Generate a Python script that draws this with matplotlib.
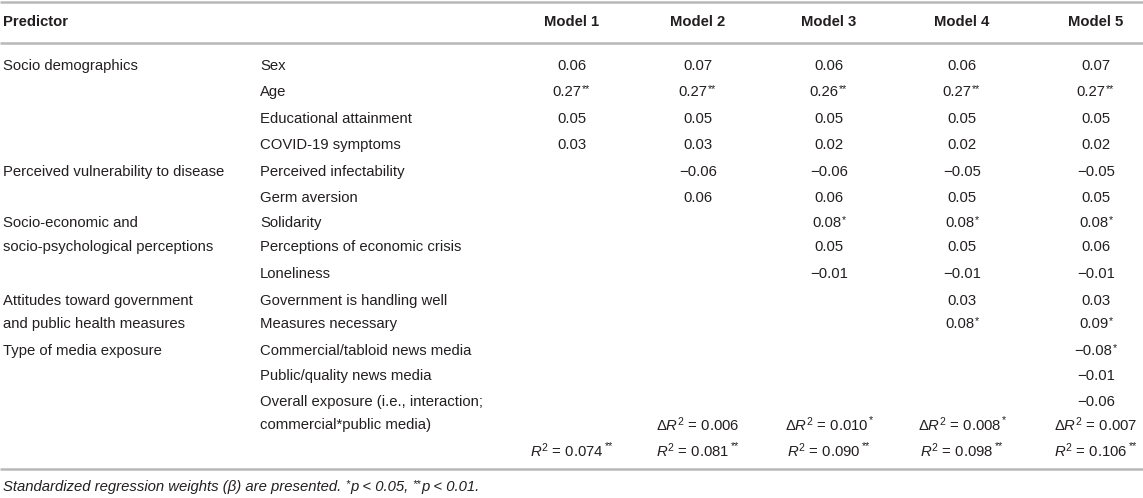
import matplotlib
matplotlib.use("Agg")
import matplotlib.pyplot as plt

plt.rcParams['font.family'] = ['Liberation Sans', 'DejaVu Sans']
plt.rcParams['mathtext.fontset'] = 'custom'
plt.rcParams['mathtext.rm'] = 'Liberation Sans'
plt.rcParams['mathtext.it'] = 'Liberation Sans:italic'
plt.rcParams['mathtext.bf'] = 'Liberation Sans:bold'

# ---------------- data ----------------
headers = ["Predictor", "Model 1", "Model 2", "Model 3", "Model 4", "Model 5"]

groups = ["Socio demographics",
          "Perceived vulnerability to disease",
          "Socio-economic and\nsocio-psychological perceptions",
          "Attitudes toward government\nand public health measures",
          "Type of media exposure"]
group_first_row = [0, 4, 6, 9, 11]

predictors = ["Sex", "Age", "Educational attainment", "COVID-19 symptoms",
              "Perceived infectability", "Germ aversion",
              "Solidarity", "Perceptions of economic crisis", "Loneliness",
              "Government is handling well", "Measures necessary",
              "Commercial/tabloid news media", "Public/quality news media",
              "Overall exposure (i.e., interaction;\ncommercial*public media)"]

N = None
model1 = [0.06, 0.27, 0.05, 0.03, N, N, N, N, N, N, N, N, N, N]
model2 = [0.07, 0.27, 0.05, 0.03, -0.06, 0.06, N, N, N, N, N, N, N, N]
model3 = [0.06, 0.26, 0.05, 0.02, -0.06, 0.06, 0.08, 0.05, -0.01, N, N, N, N, N]
model4 = [0.06, 0.27, 0.05, 0.02, -0.05, 0.05, 0.08, 0.05, -0.01, 0.03, 0.08, N, N, N]
model5 = [0.07, 0.27, 0.05, 0.02, -0.05, 0.05, 0.08, 0.06, -0.01, 0.03, 0.09, -0.08, -0.01, -0.06]

sig1 = ["", "**", "", "", "", "", "", "", "", "", "", "", "", ""]
sig2 = ["", "**", "", "", "", "", "", "", "", "", "", "", "", ""]
sig3 = ["", "**", "", "", "", "", "*", "", "", "", "", "", "", ""]
sig4 = ["", "**", "", "", "", "", "*", "", "", "", "*", "", "", ""]
sig5 = ["", "**", "", "", "", "", "*", "", "", "", "*", "*", "", ""]

delta_r2 = [N, 0.006, 0.010, 0.008, 0.007]
delta_r2_sig = ["", "", "*", "*", ""]
r2 = [0.074, 0.081, 0.090, 0.098, 0.106]
r2_sig = ["**", "**", "**", "**", "**"]

foot_parts = ["Standardized regression weights (β) are presented.", "*",
              "p < 0.05,", "**", "p < 0.01."]

# ---------------- layout ----------------
W, H = 1143, 498
fig = plt.figure(figsize=(W / 100, H / 100), dpi=100)
ax = fig.add_axes([0, 0, 1, 1])
ax.set_xlim(0, W)
ax.set_ylim(H, 0)
ax.axis('off')

txt = '#231f20'
line_c = '#b8b8b8'
fs = 10.7
fs_star = 7.8

row_y = [66, 92, 119, 145, 172, 198, 223, 247, 274, 301, 324, 351, 376, 402]
second_line_y = 425
r2_y = 451
header_y = 22
col_x = [572, 698, 829, 962, 1096]
x_group = 3
x_pred = 260

for y in (2, 43, 469):
    ax.plot([0, W], [y, y], color=line_c, lw=1.8, solid_capstyle='butt')

ax.text(x_group, header_y, headers[0], ha='left', va='center', fontsize=fs,
        fontweight='bold', color=txt)
for x, h in zip(col_x, headers[1:]):
    ax.text(x, header_y, h, ha='center', va='center', fontsize=fs,
            fontweight='bold', color=txt)

for g, r in zip(groups, group_first_row):
    for k, ln in enumerate(g.split("\n")):
        ax.text(x_group, row_y[r + k], ln, ha='left', va='center',
                fontsize=fs, color=txt)

for i, p in enumerate(predictors):
    lines = p.split("\n")
    ax.text(x_pred, row_y[i], lines[0], ha='left', va='center', fontsize=fs, color=txt)
    if len(lines) > 1:
        ax.text(x_pred, second_line_y, lines[1], ha='left', va='center',
                fontsize=fs, color=txt)


def fmt(v, nd=2):
    s = f"{v:.{nd}f}"
    return s.replace("-", "\u2212")


def put(x, y, main, stars):
    shift = len(stars) * 2.5
    t = ax.text(x - shift, y, main, ha='center', va='center', fontsize=fs, color=txt)
    if stars:
        ax.annotate(stars, xy=(1, 1.0), xycoords=t, xytext=(0.6, 0.8),
                    textcoords='offset points', ha='left', va='top',
                    fontsize=fs_star, color=txt)
    return t


models = [model1, model2, model3, model4, model5]
sigs = [sig1, sig2, sig3, sig4, sig5]
for x, vals, sg in zip(col_x, models, sigs):
    for i, (v, s) in enumerate(zip(vals, sg)):
        if v is None:
            continue
        put(x, row_y[i], fmt(v), s)

for x, d, ds, r, rs in zip(col_x, delta_r2, delta_r2_sig, r2, r2_sig):
    if d is not None:
        put(x, second_line_y, r"$\Delta R^2$ = " + fmt(d, 3), ds)
    put(x, r2_y, r"$R^2$ = " + fmt(r, 3), rs)

# footnote (italic, with superscript stars)
prev = ax.text(x_group, 487, foot_parts[0], ha='left', va='center', fontsize=fs,
               style='italic', color=txt)
base = prev
for part in foot_parts[1:]:
    if set(part) == {"*"}:
        prev = ax.annotate(part, xy=(1, 1), xycoords=(prev, base),
                           xytext=(3.0, 0.8), textcoords='offset points',
                           ha='left', va='top', fontsize=fs_star,
                           style='italic', color=txt)
    else:
        prev = ax.annotate(part, xy=(1, 0.5), xycoords=(prev, base),
                           xytext=(0.4, 0), textcoords='offset points',
                           ha='left', va='center', fontsize=fs,
                           style='italic', color=txt)

fig.savefig("out.png", dpi=100)
